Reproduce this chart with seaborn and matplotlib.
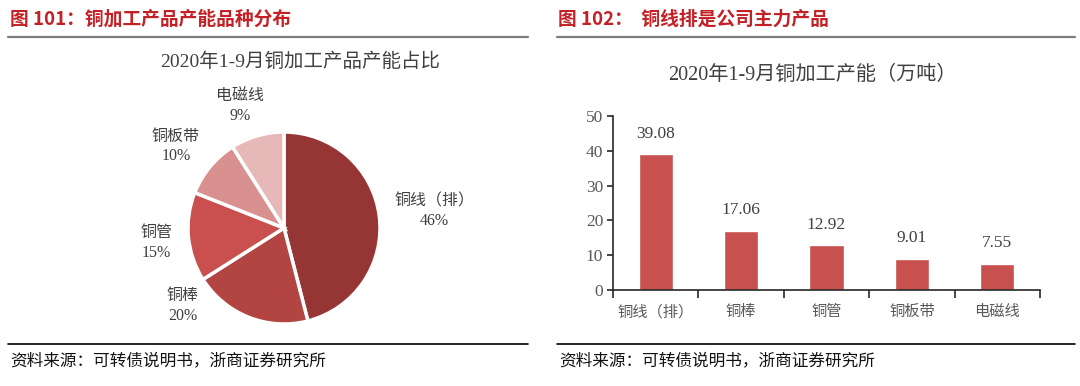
import matplotlib
matplotlib.use("Agg")
import matplotlib.pyplot as plt
import seaborn as sns
import numpy as np
import pandas as pd
from matplotlib.lines import Line2D

sns.set_theme(style="white")
plt.rcParams['font.family'] = ['Liberation Serif', 'Noto Sans CJK SC', 'DejaVu Sans']

# ---- data ----
left_header = "图 101：铜加工产品产能品种分布"
right_header = "图 102：  铜线排是公司主力产品"
source_text = "资料来源：可转债说明书，浙商证券研究所"

pie_title = "2020年1-9月铜加工产品产能占比"
pie_names = ["铜线（排）", "铜棒", "铜管", "铜板带", "电磁线"]
pie_pcts = [46, 20, 15, 10, 9]
pie_colors = ["#963634", "#B24442", "#C9504F", "#D9918F", "#E6B9B8"]

bar_title = "2020年1-9月铜加工产能（万吨）"
bar_cats = ["铜线（排）", "铜棒", "铜管", "铜板带", "电磁线"]
bar_vals = [39.08, 17.06, 12.92, 9.01, 7.55]
bar_color = "#C8504E"

W, H = 1080, 386
fig = plt.figure(figsize=(W / 100, H / 100), dpi=100)

def fx(px):
    return px / W

def fy(py):
    return 1 - py / H

red = "#C42127"
hdr_font = ['Noto Sans CJK SC', 'DejaVu Sans']
fig.text(fx(10), fy(19), left_header, color=red, fontsize=13.5, fontweight='bold',
         family=hdr_font, va='center', ha='left')
fig.text(fx(558), fy(19), right_header, color=red, fontsize=13.5, fontweight='bold',
         family=hdr_font, va='center', ha='left')
for x0, x1 in [(8, 528), (557, 1075)]:
    fig.add_artist(Line2D([fx(x0), fx(x1)], [fy(37), fy(37)], color="#7F7F7F", lw=1.6))
    fig.add_artist(Line2D([fx(x0), fx(x1)], [fy(344), fy(344)], color="#000000", lw=1.2))
fig.text(fx(10), fy(361), source_text, color="#111111", fontsize=12,
         family=['Noto Sans CJK SC'], va='center', ha='left')
fig.text(fx(559), fy(361), source_text, color="#111111", fontsize=12,
         family=['Noto Sans CJK SC'], va='center', ha='left')

# ---- pie ----
cx, cy, r = 284, 228, 96
axp = fig.add_axes([fx(cx - r), fy(cy + r), fx(2 * r), (2 * r) / H])
wedges, _ = axp.pie(pie_pcts, colors=pie_colors, startangle=90, counterclock=False,
                    wedgeprops=dict(edgecolor='white', linewidth=2.5))
axp.set_xlim(-1, 1)
axp.set_ylim(-1, 1)
axp.set_aspect('equal')
axp.axis('off')

# label placement (angle in degrees, distance in radii)
label_angles = [6.4, 217.7, 186.7, 143.0, 110.0]
label_dists = [1.58, 1.33, 1.34, 1.41, 1.35]
txt_col = "#404040"
for name, pct, ang, d in zip(pie_names, pie_pcts, label_angles, label_dists):
    a = np.deg2rad(ang)
    axp.text(d * np.cos(a), d * np.sin(a), f"{name}\n{pct}%", ha='center', va='center',
             fontsize=11.5, color=txt_col, linespacing=1.3, clip_on=False)

fig.text(fx(300), fy(62), pie_title, ha='center', va='center', fontsize=14, color="#404040")

# ---- bar ----
axb = fig.add_axes([fx(613), fy(290), fx(1040 - 613), (290 - 116) / H])
df = pd.DataFrame({"cat": bar_cats, "val": bar_vals})
sns.barplot(data=df, x="cat", y="val", color=bar_color, saturation=1, width=0.4, ax=axb)
axb.set_ylim(0, 50)
axb.set_xlim(-0.5, len(bar_cats) - 0.5)
axb.set_yticks(np.arange(0, 51, 10))
axb.set_xlabel("")
axb.set_ylabel("")
for s in ["top", "right"]:
    axb.spines[s].set_visible(False)
for s in ["left", "bottom"]:
    axb.spines[s].set_color("#262626")
    axb.spines[s].set_linewidth(1.2)
axb.set_xticks(np.arange(-0.5, len(bar_cats), 1.0))
axb.set_xticklabels([])
axb.set_xticks(np.arange(len(bar_cats)), minor=True)
axb.set_xticklabels(bar_cats, minor=True, fontsize=11, color="#595959")
axb.tick_params(axis='x', which='major', direction='out', length=6, width=1.2, color="#262626", bottom=True)
axb.tick_params(axis='x', which='minor', length=0, pad=11, bottom=True)
axb.tick_params(axis='y', direction='out', length=4, width=1.2, color="#262626", left=True,
                labelsize=12.5, labelcolor="#595959", pad=3)
for c in axb.containers:
    axb.bar_label(c, labels=[f"{v:.2f}" for v in bar_vals], padding=9, fontsize=12.5, color="#404040")
axb.grid(False)

fig.text(fx(812), fy(75), bar_title, ha='center', va='center', fontsize=14.5, color="#404040")

fig.savefig("out.png", dpi=100)
